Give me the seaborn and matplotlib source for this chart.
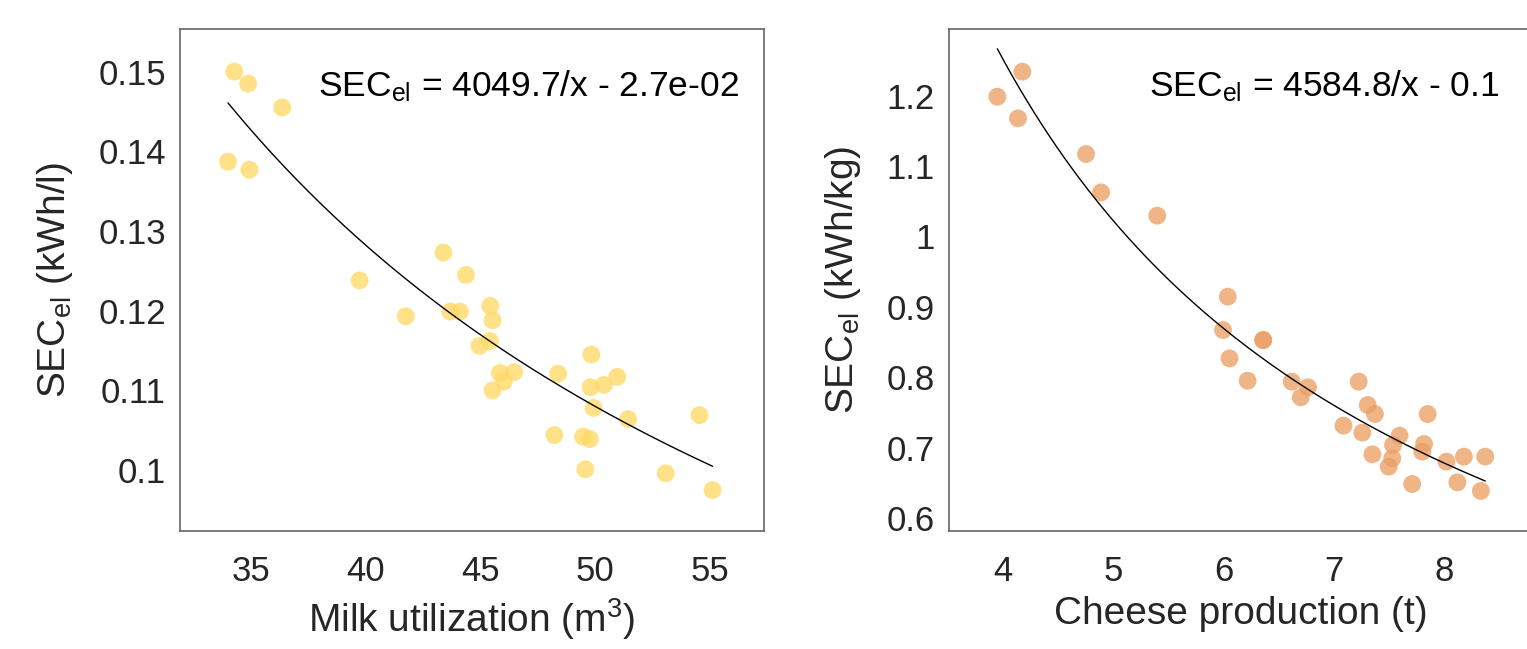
import numpy as np
import pandas as pd
import seaborn as sns
import matplotlib
matplotlib.use("Agg")
import matplotlib.pyplot as plt
from matplotlib.ticker import FuncFormatter

# dados
milk_x = [34.28, 34.89, 36.37, 34.01, 34.94, 43.39, 44.37, 39.74, 41.75, 43.69, 44.11,
          45.43, 45.53, 45.41, 44.96, 45.85, 46.47, 46.02, 45.53, 48.38, 49.83, 49.80,
          50.38, 50.96, 49.93, 51.43, 54.54, 48.22, 49.47, 49.77, 49.57, 53.07, 55.11]
milk_sec = [0.1500, 0.1485, 0.1455, 0.1387, 0.1377, 0.1273, 0.1245, 0.1238, 0.1193, 0.1199, 0.1199,
            0.1206, 0.1188, 0.1162, 0.1156, 0.1122, 0.1123, 0.1111, 0.1100, 0.1121, 0.1145, 0.1104,
            0.1107, 0.1117, 0.1078, 0.1064, 0.1069, 0.1044, 0.1042, 0.1039, 0.1001, 0.0996, 0.0975]

cheese_x = [4.174, 3.948, 4.135, 4.751, 4.888, 5.396, 6.035, 5.992, 6.356, 6.356, 6.051,
            6.215, 6.614, 6.762, 6.696, 7.221, 7.303, 7.368, 7.083, 7.254, 7.591, 7.532,
            7.846, 7.813, 7.797, 7.345, 7.525, 7.493, 8.016, 8.174, 8.367, 7.706, 8.115, 8.328]
cheese_sec = [1.2338, 1.1983, 1.1676, 1.1170, 1.0626, 1.0295, 0.9145, 0.8672, 0.8530, 0.8530, 0.8270,
              0.7953, 0.7939, 0.7859, 0.7717, 0.7939, 0.7608, 0.7480, 0.7315, 0.7216, 0.7173, 0.7040,
              0.7480, 0.7055, 0.6946, 0.6908, 0.6851, 0.6733, 0.6804, 0.6875, 0.6875, 0.6487, 0.6511, 0.6388]

# coeficientes da curva a/x + b
milk_fit = [4.0497, 0.027]
cheese_fit = [4.5848, 0.105]

milk_ticks_x = [35, 40, 45, 50, 55]
milk_ticks_y = [0.10, 0.11, 0.12, 0.13, 0.14, 0.15]
cheese_ticks_x = [4, 5, 6, 7, 8]
cheese_ticks_y = [0.6, 0.7, 0.8, 0.9, 1.0, 1.1, 1.2]

sns.set_theme(style="white")
plt.rcParams["font.family"] = ["Liberation Sans", "DejaVu Sans"]
plt.rcParams["mathtext.fontset"] = "custom"
plt.rcParams["mathtext.rm"] = "Liberation Sans"
plt.rcParams["mathtext.it"] = "Liberation Sans:italic"


def painel(ax, x, y, fit, cor, xlim, ylim, xticks, yticks, xlabel, ylabel, eq, eq_x):
    df = pd.DataFrame({"x": x, "y": y})
    sns.scatterplot(data=df, x="x", y="y", ax=ax, color=cor, alpha=0.78, s=165,
                    edgecolor="none", linewidth=0)

    xs = np.linspace(min(x), max(x), 200)
    curva = pd.DataFrame({"x": xs, "y": fit[0] / xs + fit[1]})
    sns.lineplot(data=curva, x="x", y="y", ax=ax, color="black", linewidth=1, sort=False)

    ax.set_xlim(xlim)
    ax.set_ylim(ylim)
    ax.set_xticks(xticks)
    ax.set_yticks(yticks)
    ax.yaxis.set_major_formatter(FuncFormatter(lambda v, p: f"{round(v, 3):g}"))
    ax.tick_params(axis="x", labelsize=25, pad=17, length=0, colors="#262626")
    ax.tick_params(axis="y", labelsize=25, pad=10, length=0, colors="#262626")
    ax.set_xlabel(xlabel, fontsize=28, color="#262626", labelpad=6)
    ax.set_ylabel(ylabel, fontsize=28, color="#262626", labelpad=17)
    for sp in ax.spines.values():
        sp.set_visible(True)
        sp.set_color("#666666")
        sp.set_linewidth(1.2)
    ax.text(eq_x, 0.865, eq, transform=ax.transAxes, ha="right", va="baseline",
            fontsize=25.5, color="black")


fig = plt.figure(figsize=(15.27, 6.49), dpi=100)
ax1 = fig.add_axes([180 / 1527, 118 / 649, 584 / 1527, 502 / 649])
ax2 = fig.add_axes([949 / 1527, 118 / 649, 584 / 1527, 502 / 649])

painel(ax1, milk_x, milk_sec, milk_fit, "#FFD966", (31.92, 57.35), (0.09236, 0.15535),
       milk_ticks_x, milk_ticks_y, r"Milk utilization (m$^3$)", r"SEC$_{\rm el}$ (kWh/l)",
       r"SEC$_{\rm el}$ = 4049.7/x - 2.7e-02", 0.957)
painel(ax2, cheese_x, cheese_sec, cheese_fit, "#ECA066", (3.51, 8.80), (0.582, 1.2944),
       cheese_ticks_x, cheese_ticks_y, "Cheese production (t)", r"SEC$_{\rm el}$ (kWh/kg)",
       r"SEC$_{\rm el}$ = 4584.8/x - 0.1", 0.942)

fig.savefig("out.png", dpi=100)
